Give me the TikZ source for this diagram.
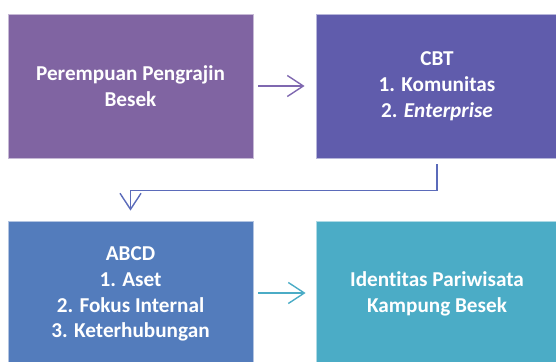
\documentclass[tikz,border=0pt]{standalone}
\usepackage{fontspec}
\setmainfont[Ligatures={NoCommon,NoContextual}, RawFeature={-liga;-clig;-calt;-dlig}]{Carlito}
\usetikzlibrary{arrows.meta}

\definecolor{boxA}{RGB}{128,100,162}
\definecolor{boxB}{RGB}{96,92,172}
\definecolor{boxC}{RGB}{83,124,188}
\definecolor{boxD}{RGB}{75,172,198}
\definecolor{arrA}{RGB}{127,104,176}
\definecolor{arrB}{RGB}{91,107,186}

\tikzset{
  stage/.style={rectangle, inner sep=0pt, align=center, text=white,
    font=\fontsize{21.2}{25.8}\selectfont\bfseries,
    line width=0.8pt},
  flow/.style={line width=1.4pt,
    -{Straight Barb[length=16pt,width=21pt,line width=1.4pt]}}
}

\begin{document}
\begin{tikzpicture}[x=1pt,y=-1pt]
  \useasboundingbox (0,0) rectangle (556,361);
  \clip (0,0) rectangle (556,361);

  % four stages, the right and lower ones run past the page edge
  \node[stage, fill=boxA, draw=boxA!45!white, minimum width=245pt, minimum height=144pt]
    (b1) at (130.5,86) {Perempuan Pengrajin\\Besek};
  \node[stage, fill=boxB, draw=boxB!45!white, minimum width=242pt, minimum height=144pt]
    (b2) at (437,86) {CBT\\1. Komunitas\\2. \textit{Enterprise}};
  \node[stage, fill=boxC, draw=boxC!45!white, minimum width=245pt, minimum height=146pt]
    (b3) at (130.5,294) {ABCD\\1. Aset\\2. Fokus Internal\\3. Keterhubungan};
  \node[stage, fill=boxD, draw=boxD!45!white, minimum width=242pt, minimum height=146pt]
    (b4) at (437,294) {Identitas Pariwisata\\Kampung Besek};

  % connectors
  \draw[flow, arrA, shorten <=5pt, shorten >=11pt] (b1.east) -- (b2.west);
  \draw[flow, arrB, shorten <=6pt, shorten >=10pt]
    (b2.south) -- ++(0,32) -| (b3.north);
  \draw[flow, boxD, shorten <=5pt, shorten >=10pt] (b3.east |- 0,293) -- (b4.west |- 0,293);
\end{tikzpicture}
\end{document}
